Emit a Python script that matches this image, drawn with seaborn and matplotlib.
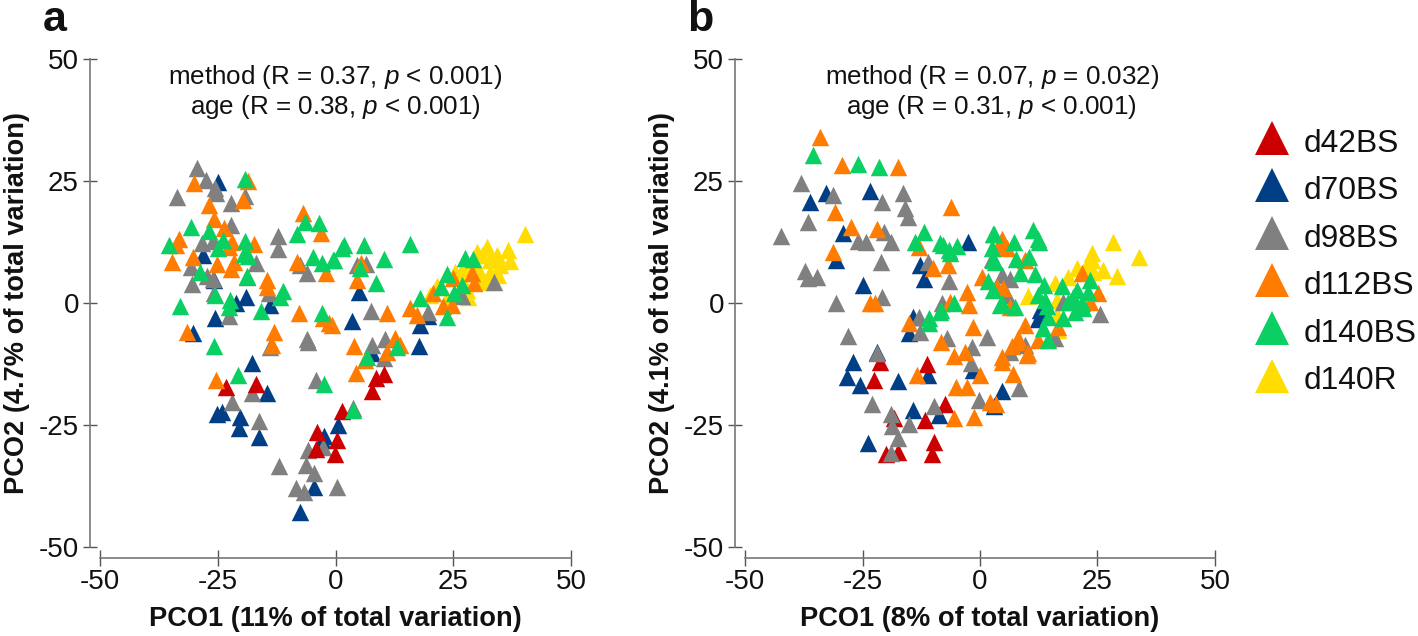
import matplotlib
matplotlib.use("Agg")
import matplotlib.pyplot as plt
from matplotlib.lines import Line2D
import pandas as pd
import seaborn as sns

GROUPS = ["d42BS", "d70BS", "d98BS", "d112BS", "d140BS", "d140R"]
COLORS = ["#CC0000", "#003E86", "#808080", "#FF7C00", "#0ACF62", "#FFDD00"]
TICKS = [-50, -25, 0, 25, 50]

# panel a
A_D42_X = [-23.2, -16.8, 1.3, 8.6, 10.2, 7.8, -3.9, 0.4, -4.2, -0.1]
A_D42_Y = [-17.2, -16.5, -22.1, -15.3, -14.6, -18.0, -26.4, -28.1, -29.9, -31.0]
A_D70_X = [-24.9, -28.2, -25.8, -19.0, -21.1, -13.9, -25.6, -30.3, 5.0, 3.6, 17.9, 19.7, 17.8, 7.7,
           -17.8, -14.6, -25.2, -24.1, -20.2, -20.5, -16.3, -2.4, 0.6, -2.9, -4.5, -7.5]
A_D70_Y = [24.7, 9.8, 4.7, 1.2, 0.0, -0.5, -3.1, -6.2, 2.3, -3.6, -4.5, -2.7, -8.8, -10.3,
           -12.2, -18.5, -22.8, -22.3, -23.4, -25.7, -27.4, -27.3, -25.0, -28.1, -37.7, -42.9]
A_D98_X = [-29.4, -27.4, -33.6, -25.4, -25.6, -22.2, -19.2, -22.1, -28.4, -26.1, -12.3, -12.3, -30.7,
           -16.9, -27.2, -7.5, -6.0, -30.4, -26.1, -25.9, -18.8, -22.7, -6.0, -13.9, -14.2, 4.5, 6.5,
           7.6, 7.7, 10.5, 10.2, 26.8, 33.6, 19.7, -22.0, -17.8, -16.3, -4.2, -5.9, -11.9, -6.2, -4.5,
           -8.3, -6.6, 0.3, 3.8, -2.7, -5.9]
A_D98_Y = [27.6, 25.3, 21.8, 22.5, 23.5, 20.4, 21.9, 16.0, 12.2, 12.8, 13.7, 11.1, 7.3,
           8.1, 5.5, 7.8, 6.1, 3.9, 5.0, 2.0, 5.4, -2.7, -7.4, -9.0, 2.0, 7.8, 8.0,
           -1.6, -8.6, -7.4, -11.3, 1.4, 4.4, -1.8, -20.2, -18.5, -24.1, -15.7, -30.1, -33.4, -33.2, -34.9,
           -38.0, -38.7, -37.8, -21.6, -29.5, -7.9]
A_D112_X = [-30.0, -18.6, -26.8, -19.7, -25.8, -23.6, -33.3, -33.8, -34.8, -30.2, -22.0, -22.7, -17.3,
            -25.2, -21.5, -22.2, -14.6, -14.5, -6.8, -3.0, -8.1, -2.0, -7.7, -2.6, -1.4, -31.6, -13.0,
            -13.5, 5.5, 4.5, 10.9, 15.8, 17.4, 20.8, 25.0, 28.9, 29.3, 22.9, 24.7, 12.6, 13.8, 3.9, 10.9,
            6.3, 4.4, -0.8, -25.3]
A_D112_Y = [24.5, 25.1, 20.1, 21.1, 17.3, 15.3, 13.2, 11.9, 8.5, 9.5, 12.6, 11.5, 12.0,
            8.0, 8.5, 6.9, 4.7, 3.3, 18.4, 14.3, 8.5, 6.2, -2.1, -3.1, -4.2, -5.9, -5.9,
            -8.6, 8.1, 4.7, -2.1, -1.1, -2.5, 2.0, 5.1, 6.1, 4.2, -0.7, -0.4, -7.2, -8.6, -8.8, -10.0,
            -11.7, -14.4, -4.5, -15.8]
A_D140B_X = [-19.2, -30.6, -35.3, -26.8, -23.8, -24.9, -19.2, -19.5, -18.5, -28.7, -18.8, -25.6, -22.4,
             -22.7, -33.1, -15.9, -11.2, -11.8, -6.5, -3.5, -8.2, -4.7, -2.9, -0.4, 1.3, -2.8, -25.8,
             1.7, 6.1, -0.5, 10.2, 5.2, 15.8, 8.6, 27.4, 29.1, 23.7, 22.3, 26.8, 25.2, 17.9, 23.7, 6.6,
             13.0, -20.6, -2.4, 3.7]
A_D140B_Y = [25.5, 15.5, 11.9, 14.8, 12.9, 11.2, 12.8, 10.0, 9.6, 6.4, 5.5, 1.6, 0.6,
             -0.8, -0.6, -1.6, 2.5, 1.3, 16.5, 16.3, 14.1, 9.5, 8.1, 8.8, 11.2, -2.1, -8.9,
             11.8, 11.8, 8.8, 9.0, 7.1, 12.1, 4.0, 9.3, 9.0, 6.0, 3.2, 3.7, 2.1, 1.0, -2.9, -11.0,
             -9.1, -14.8, -16.5, -21.9]
A_D140R_X = [40.2, 32.1, 30.0, 34.2, 36.6, 37.0, 32.8, 34.6, 30.7, 27.1, 21.5, 20.1, 28.2, 25.4, 31.7,
             29.3, 34.9, 31.0, 27.9, 30.0, 32.8, 27.1, 23.6]
A_D140R_Y = [14.1, 11.5, 10.5, 9.8, 10.9, 8.7, 8.8, 5.7, 6.1, 7.1, 3.4, 1.6, 1.3, 6.4, 4.4,
             8.1, 7.8, 9.8, 2.7, 4.7, 6.1, 4.0, 1.0]

# panel b
B_D42_X = [-21.3, -22.5, -11.2, -7.4, -11.7, -18.4, -9.7, -10.3, -20.0, -17.4]
B_D42_Y = [-12.0, -15.8, -12.5, -20.7, -24.0, -23.6, -28.4, -30.9, -30.9, -30.5]
B_D70_X = [-32.8, -36.2, -23.5, -29.1, -30.6, -2.5, -12.8, -12.0, -25.0, -14.2, 12.4, 12.8, -15.2,
           -22.0, -27.1, -28.2, -25.5, -17.5, -11.0, 4.6, 3.0, -14.2, -8.8, -23.9, -1.5]
B_D70_Y = [22.5, 20.6, 23.0, 14.3, 8.8, 12.6, 7.7, 4.9, 3.7, -2.8, -3.2, -1.4, -6.2,
           -10.0, -12.0, -15.2, -16.8, -16.0, -14.7, -18.0, -21.2, -21.9, -23.0, -28.6, -13.7]
B_D98_X = [-38.0, -31.3, -20.9, -16.4, -15.9, -15.3, -36.6, -42.4, -20.4, -25.9, -24.2, -19.0, -21.1,
           -37.2, -36.5, -34.7, -6.5, -11.0, -20.8, -30.6, -12.9, -8.1, 2.5, 4.6, 6.4, 5.7, 25.5, 1.4,
           -1.8, 6.4, 9.6, 16.0, 17.7, -28.0, -22.0, -12.7, -7.1, -1.9, 8.3, -23.0, -0.3, -9.8, -19.0,
           -18.8, -15.0, -17.4, -19.0]
B_D98_Y = [24.5, 22.1, 20.6, 22.6, 19.4, 17.7, 16.5, 13.7, 14.6, 12.7, 12.6, 12.6, 8.5,
           6.6, 5.1, 5.4, 4.6, 8.5, 1.3, -0.1, -2.8, -0.1, 9.1, 5.7, 5.0, 1.6, -2.3, -7.0,
           -9.0, -10.0, -8.6, -7.2, 0.3, -6.8, -10.3, -5.9, -7.2, -12.2, -17.5, -20.7, -19.9, -21.2, -22.7,
           -25.3, -24.7, -27.7, -30.8]
B_D112_X = [-34.0, -29.3, -17.4, -30.8, -27.5, -22.0, -6.2, -31.3, -12.9, -10.1, -6.9, 0.4, -2.8, -2.3,
            -23.4, -22.3, -6.4, 4.1, 3.6, 4.6, 5.7, 9.6, 4.8, 21.6, 25.2, 23.4, -1.4, 9.6, 16.7, 7.8,
            12.4, 10.3, 4.6, -3.2, 6.4, -15.0, -8.3, -5.6, 4.6, 7.1, 0.0, -13.5, -5.1, -2.8, 2.2, 3.4,
            -5.6, -1.3, 8.0, 6.8, 10.0]
B_D112_Y = [34.1, 28.3, 27.9, 18.7, 15.5, 15.1, 19.6, 10.5, 11.5, 7.1, 7.8, 5.4, 2.3, -0.4,
            0.1, 0.1, 0.3, 11.9, 3.3, 13.2, 11.2, 8.8, 3.0, 6.1, 2.0, 0.3, -4.9, -4.5, -4.9, -7.9,
            -7.6, -10.3, -11.0, -10.0, -0.8, -4.0, -7.9, -10.8, -12.0, -14.6, -14.7, -14.7, -17.3, -17.3, -20.2, -20.6,
            -23.6, -23.3, -7.2, -8.9, -10.7]
B_D140B_X = [-35.5, -26.0, -21.5, -12.0, -13.8, -8.6, -7.8, -6.7, -6.4, -4.8, 2.8, 2.5, 2.8, 1.8, 2.8,
             -5.5, -8.4, -10.8, 4.3, 3.0, 11.2, 12.3, 12.5, 7.3, 3.2, 7.7, 10.4, 8.5, 11.7, 13.6, 17.4,
             12.4, 13.8, 14.3, 4.6, 7.4, 20.6, 23.0, 23.5, 18.8, 20.2, 21.6, 22.0, 14.5, 17.7, 13.3, 14.5,
             19.8, -10.8, -8.5]
B_D140B_Y = [30.3, 28.5, 27.9, 14.6, 12.4, 12.2, 11.9, 10.9, 10.2, 11.7, 14.1, 11.2, 8.8, 4.5, 2.7,
             0.1, -1.4, -3.1, -0.4, 14.1, 15.0, 13.2, 12.6, 12.4, 8.5, 9.1, 9.5, 6.2, 5.9, 3.7, 3.4,
             1.6, 0.6, -0.6, 0.1, -0.8, 2.7, 2.3, 4.7, 0.3, -1.8, -0.1, -1.1, -2.9, -3.1, -5.2, -7.6,
             1.3, -4.0, -1.8]
B_D140R_X = [28.2, 33.8, 23.8, 26.2, 29.1, 20.6, 18.8, 10.3, 16.0, 22.7, 24.1, 16.3, 16.3, 16.7, 23.8]
B_D140R_Y = [12.6, 9.5, 10.2, 6.8, 5.5, 7.1, 5.4, 1.4, 4.0, 7.8, 6.4, 0.6, -2.5, -5.5, 8.8]

A_X = [A_D42_X, A_D70_X, A_D98_X, A_D112_X, A_D140B_X, A_D140R_X]
A_Y = [A_D42_Y, A_D70_Y, A_D98_Y, A_D112_Y, A_D140B_Y, A_D140R_Y]
B_X = [B_D42_X, B_D70_X, B_D98_X, B_D112_X, B_D140B_X, B_D140R_X]
B_Y = [B_D42_Y, B_D70_Y, B_D98_Y, B_D112_Y, B_D140B_Y, B_D140R_Y]

sns.set_style("white", {"text.color": "#111111", "axes.labelcolor": "#111111",
                        "xtick.color": "#111111", "ytick.color": "#111111"})
plt.rcParams["font.family"] = ["Liberation Sans", "DejaVu Sans"]
plt.rcParams["mathtext.fontset"] = "custom"
plt.rcParams["mathtext.rm"] = "Liberation Sans"
plt.rcParams["mathtext.it"] = "Liberation Sans:italic"
plt.rcParams["axes.unicode_minus"] = False

W, H = 1418, 636


def draw_panel(box, xs, ys, order, letter, letter_x, note, note_x, xlabel, ylabel):
    left, right, top, bottom = box
    ax = fig.add_axes([left / W, 1 - bottom / H, (right - left) / W, (bottom - top) / H])
    ax.patch.set_alpha(0)

    for i in order:
        df = pd.DataFrame({"x": xs[i], "y": ys[i]})
        sns.scatterplot(data=df, x="x", y="y", color=COLORS[i], marker="^", s=158,
                        linewidth=0, ax=ax, clip_on=False)

    ax.set(xlim=(-50, 50), ylim=(-50, 50), xticks=TICKS, yticks=TICKS)
    sns.despine(ax=ax, offset={"left": 7.2, "bottom": 8})
    for side in ["left", "bottom"]:
        ax.spines[side].set_color("#777777")
        ax.spines[side].set_linewidth(1.2)
    ax.spines["left"].set_bounds(-50, 50)
    ax.spines["bottom"].set_bounds(-50, 50)
    ax.tick_params(axis="y", direction="inout", length=10, width=1, color="#555555",
                   labelsize=20, pad=3, left=True)
    ax.tick_params(axis="x", direction="inout", length=11.5, width=1, color="#555555",
                   labelsize=20, pad=2, bottom=True)
    ax.set_xlabel(xlabel, fontsize=19.6, fontweight="bold", labelpad=8)
    ax.set_ylabel(ylabel, fontsize=19.6, fontweight="bold", labelpad=6)
    ax.text(note_x, 0.932, note, transform=ax.transAxes, ha="center", va="center",
            fontsize=18.7, linespacing=1.1)
    fig.text(letter_x / W, 1 - 31 / H, letter, fontsize=31, fontweight="bold", ha="left", va="baseline")
    return ax


fig = plt.figure(figsize=(W / 100, H / 100), dpi=100)

draw_panel((100, 571, 59, 547), A_X, A_Y, [5, 1, 2, 0, 3, 4], "a", 43,
           "method (R = 0.37, $\\mathit{p}$ < 0.001)\nage (R = 0.38, $\\mathit{p}$ < 0.001)", 0.5,
           "PCO1 (11% of total variation)", "PCO2 (4.7% of total variation)")
draw_panel((745, 1215, 59, 547), B_X, B_Y, [5, 1, 0, 2, 3, 4], "b", 687,
           "method (R = 0.07, $\\mathit{p}$ = 0.032)\nage (R = 0.31, $\\mathit{p}$ < 0.001)", 0.525,
           "PCO1 (8% of total variation)", "PCO2 (4.1% of total variation)")

handles = [Line2D([], [], linestyle="none", marker="^", markersize=25, markeredgewidth=0, color=c)
           for c in COLORS]
fig.legend(handles, GROUPS, loc="upper left", bbox_to_anchor=(1255 / W, 1 - 124 / H), frameon=False,
           fontsize=22.9, borderpad=0, borderaxespad=0, labelspacing=0.41, handlelength=1.1,
           handleheight=1.25, handletextpad=0.42)

fig.savefig("out.png", dpi=100)
